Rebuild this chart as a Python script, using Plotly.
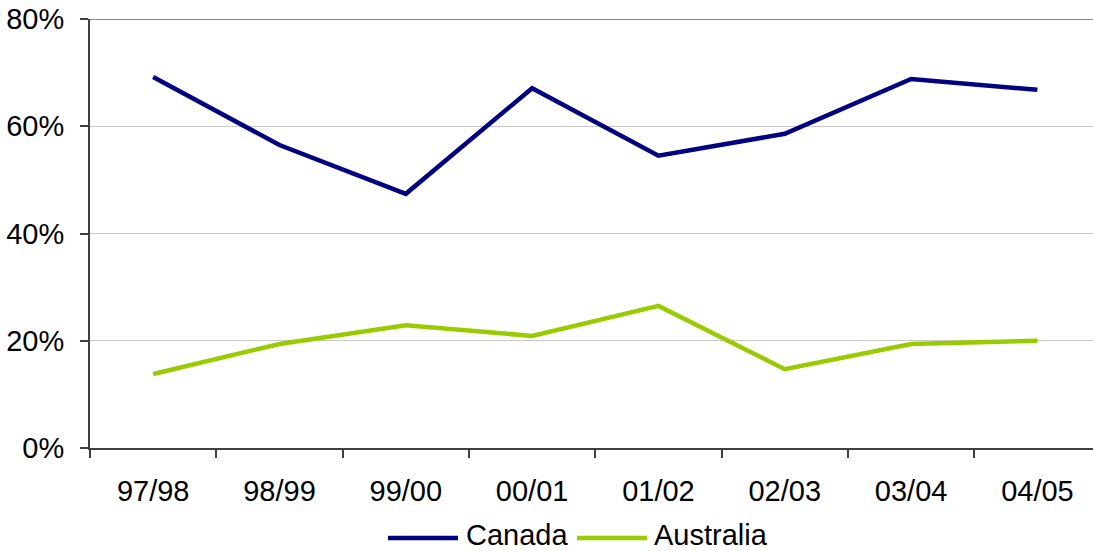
import plotly.graph_objects as go

years = ["97/98", "98/99", "99/00", "00/01", "01/02", "02/03", "03/04", "04/05"]
canada = [69.2, 56.5, 47.4, 67.1, 54.5, 58.6, 68.8, 66.8]
australia = [13.8, 19.4, 22.9, 20.9, 26.5, 14.7, 19.4, 20.0]
y_ticks = [0, 20, 40, 60, 80]
y_tick_labels = ["0%", "20%", "40%", "60%", "80%"]

FONT = "Liberation Sans, Arial, sans-serif"
W, H = 1093, 551
L, R, T, B = 90, 0, 19, 103
PW, PH = W - L - R, H - T - B


def px_x(p):
    return (p - L) / PW


def px_y(p):
    return (H - B - p) / PH


series = [("Canada", canada, "#000080", 388, 458, 464),
          ("Australia", australia, "#99CC00", 577, 647, 652)]

fig = go.Figure()
for name, vals, color, *_ in series:
    fig.add_trace(go.Scatter(x=years, y=vals, name=name, mode="lines",
                             line=dict(color=color, width=4.5), showlegend=False))

fig.add_shape(type="line", xref="paper", x0=0, x1=1, yref="y", y0=80, y1=80,
              line=dict(color="#888888", width=2), layer="below")

# manual legend
for name, vals, color, x0, x1, tx in series:
    fig.add_shape(type="line", xref="paper", yref="paper",
                  x0=px_x(x0), x1=px_x(x1), y0=px_y(538), y1=px_y(538),
                  line=dict(color=color, width=4.5))
    fig.add_annotation(xref="paper", yref="paper", x=px_x(tx), y=px_y(535),
                       xanchor="left", yanchor="middle", showarrow=False,
                       text=name, font=dict(family=FONT, size=29, color="black"))

fig.update_layout(
    width=W, height=H,
    margin=dict(l=L, r=R, t=T, b=B),
    paper_bgcolor="white", plot_bgcolor="white",
    font=dict(family=FONT, size=29, color="black"),
    showlegend=False,
    xaxis=dict(type="category", range=[-0.5, 7.44], tickson="boundaries",
               ticks="outside", ticklen=8, tickwidth=1.5, tickcolor="#404040",
               showline=True, linecolor="#404040", linewidth=2,
               showgrid=False, ticklabelstandoff=16, zeroline=False,
               automargin=False),
    yaxis=dict(range=[0, 80], tickvals=y_ticks, ticktext=y_tick_labels,
               ticks="outside", ticklen=8, tickwidth=1.5, tickcolor="#404040",
               showline=True, linecolor="#404040", linewidth=2,
               showgrid=True, gridcolor="#c8c8c8", gridwidth=1,
               ticklabelstandoff=10, zeroline=False, automargin=False),
)

fig.write_html("out.html")
